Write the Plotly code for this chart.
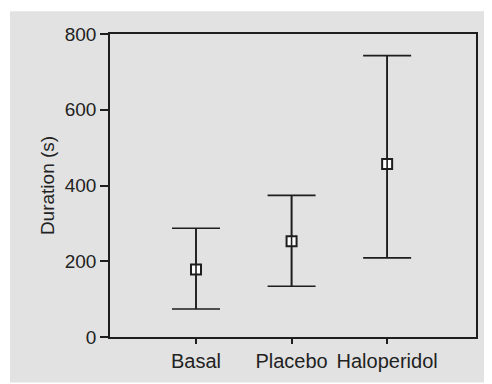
import plotly.graph_objects as go

categories = ["Basal", "Placebo", "Haloperidol"]
means = [178, 253, 457]
upper = [287, 374, 743]
lower = [74, 134, 209]
y_ticks = [0, 200, 400, 600, 800]

xpos = [0, 1, 2]
err_plus = [u - m for u, m in zip(upper, means)]
err_minus = [m - l for m, l in zip(means, lower)]

BG = "#e2e2e2"
INK = "#1e1e1e"
FONT = "Liberation Sans, Arial, sans-serif"

fig = go.Figure()
fig.add_trace(go.Scatter(
    x=xpos, y=means, mode="markers",
    marker=dict(symbol="square", size=10, color="white", line=dict(color=INK, width=2)),
    error_y=dict(type="data", symmetric=False, array=err_plus, arrayminus=err_minus,
                 color=INK, thickness=1.6, width=24),
    showlegend=False, hoverinfo="skip",
))
fig.add_trace(go.Scatter(
    x=xpos, y=means, mode="markers",
    marker=dict(size=1, opacity=0),
    error_y=dict(type="data", symmetric=False, array=err_plus, arrayminus=err_minus,
                 color=INK, thickness=1.6, width=0),
    showlegend=False, hoverinfo="skip",
))

fig.add_shape(type="rect", xref="paper", yref="paper",
              x0=-0.2732, x1=1.05, y0=-0.15, y1=1.0749,
              fillcolor=BG, line=dict(width=0), layer="below")

fig.update_layout(
    width=484, height=376,
    margin=dict(l=102, r=16, t=26, b=43),
    paper_bgcolor="white", plot_bgcolor=BG,
    font=dict(family=FONT, size=19, color="#222222"),
    xaxis=dict(
        range=[-0.9, 2.93], tickmode="array", tickvals=xpos, ticktext=categories,
        showgrid=False, zeroline=False, showline=True, linecolor=INK, linewidth=1.6,
        mirror=True, ticks="outside", ticklen=5, tickwidth=1.6, tickcolor=INK,
        tickfont=dict(size=20),
    ),
    yaxis=dict(
        range=[0, 800], tickmode="array", tickvals=y_ticks,
        showgrid=False, zeroline=False, showline=True, linecolor=INK, linewidth=1.6,
        mirror=True, ticks="outside", ticklen=8, tickwidth=1.6, tickcolor=INK,
        tickfont=dict(size=19),
        title=dict(text="Duration (s)", font=dict(size=19), standoff=5),
    ),
)

fig.write_html("out.html")
